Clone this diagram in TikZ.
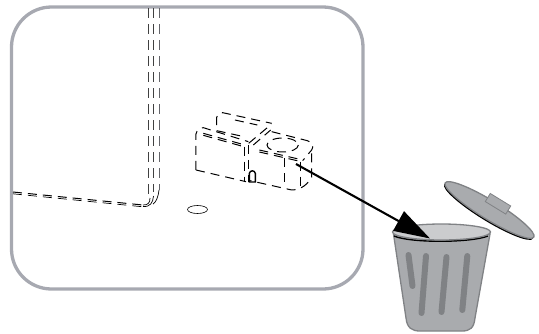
\documentclass[tikz,border=0pt]{standalone}
\usepackage{xcolor}
\usetikzlibrary{arrows.meta,calc,shapes.geometric}
\definecolor{framegray}{HTML}{A7A9B1}
\definecolor{bingray}{HTML}{A9ABAE}
\definecolor{binedge}{HTML}{808285}
\definecolor{rimgray}{HTML}{CBCCCE}
\begin{document}
\begin{tikzpicture}[
  x=1pt, y=-1pt,
  frame/.style={draw=framegray, line width=3.3pt, rounded corners=40pt},
  hidden/.style={black, line width=1pt, dash pattern=on 9pt off 6pt},
  hiddenlong/.style={black!75, line width=1pt, dash pattern=on 10pt off 6pt},
  binpart/.style={fill=bingray, draw=binedge, line width=1pt},
  stripe/.style={binedge, line width=6pt, line cap=round},
  arrow/.style={-{Triangle[length=36pt,width=22pt]}, line width=2.1pt}
]
\useasboundingbox (0,0) rectangle (539,333);
\draw[frame] (11.5,7) rectangle (363,289);

% rail running to the top edge
\draw[hiddenlong] (148.5,8) -- (148.5,194);
\draw[hiddenlong] (153.5,8) -- (153.5,192);
\draw[hiddenlong, framegray!60!black] (159,8) -- (159,190);
\draw[hidden] (13,192) -- (143,205);
\draw[hidden, line width=0.7pt] (13,193.8) -- (143,206.8);
\draw[black, line width=0.7pt] (143,206.5) .. controls (150,207) and (153,203) .. (153.5,196);
\draw[black, line width=0.7pt] (143,205) .. controls (148,205) and (150,203) .. (150,198);
\draw[black, line width=0.7pt] (153,204) .. controls (156,202) and (158,198) .. (159,190);

% small hole
\node[draw, ellipse, line width=0.6pt, minimum width=20pt, minimum height=8pt, inner sep=0pt] (hole) at (197.5,209.5) {};

% clip seen through the panel
\begin{scope}[shift={(170,90)}, x=0.3333pt, y=-0.3333pt]
  \draw[hidden] (140,105) -- (140,82) .. controls (141,74) and (148,69) .. (158,68) -- (305,100);
  \draw[hidden] (195,90) -- (262,105);
  \draw[hidden] (140,122) -- (222,140);
  \draw[hidden] (78,240) -- (78,132) .. controls (80,122) and (88,114) .. (100,113) -- (235,155);
  \draw[hidden] (100,130) -- (225,165);
  \draw[hidden] (100,136) -- (225,171);
  \draw[hidden] (78,240) -- (228,275);
  \draw[hidden] (225,170) -- (225,275);
  \draw[hidden] (236,165) -- (236,275);
  \draw[hidden] (236,160) -- (305,102);
  \draw[hidden] (250,165) -- (302,120);
  \draw[hidden] (305,125) -- (412,152) .. controls (428,157) and (432,170) .. (425,180) -- (398,212);
  \draw[hidden] (268,180) -- (390,208);
  \draw[hidden] (268,186) -- (390,214);
  \draw[hidden] (345,205) -- (345,295);
  \draw[hidden] (392,215) -- (392,290);
  \draw[hidden] (425,190) -- (425,262) .. controls (415,280) and (395,300) .. (365,300) -- (240,272);
  \draw[hidden] (338,165) ellipse (47 and 21);
  \draw[black, line width=1.4pt] (238,276) -- (238,250) .. controls (240,240) and (254,240) .. (256,250) -- (256,276) -- cycle;
\end{scope}

% lid
\begin{scope}[shift={(489.5,210)}, rotate=-31.5]
  \fill[black] (0,1.8) ellipse (52 and 9.5);
  \draw[binpart, line width=1.3pt] (0,0) ellipse (52 and 9.5);
  \draw[binpart, line width=0.8pt] (-8,-14.5) rectangle (16,-5);
\end{scope}

% bin
\draw[binpart, line width=1.3pt] (393.5,234) -- (406,318) .. controls (407,328) and (412,331) .. (420,331)
  -- (462,331) .. controls (470,331) and (474,328) .. (475,318) -- (490,234) -- cycle;
\draw[stripe] (408.5,255) -- (412.5,286);
\draw[stripe] (426,256) -- (421.5,313);
\draw[stripe] (446.5,257) -- (441.5,312);
\draw[stripe] (467.3,256) -- (462.3,310);
\draw[black, line width=1.4pt] (394,236) .. controls (410,243) and (470,243) .. (488,236);
\node[draw=binedge, fill=rimgray, ellipse, line width=1.3pt, minimum width=98pt, minimum height=16pt, inner sep=0pt] (rim) at (441.5,232) {};

% arrow into the bin
\coordinate (clip) at (296,164);
\coordinate (bintarget) at (430,238.5);
\draw[arrow] (clip) -- (bintarget);
\end{tikzpicture}
\end{document}
